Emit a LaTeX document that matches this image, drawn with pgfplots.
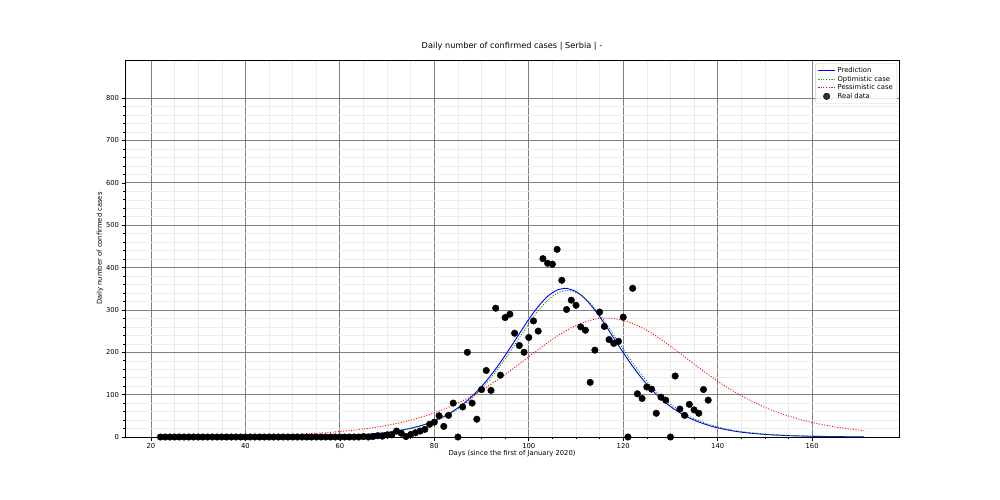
\documentclass[border=0pt]{standalone}
\usepackage{fontspec}
\setmainfont{DejaVu Sans}
\usepackage{pgfplots}
\usepackage{pgfplotstable}
\pgfplotsset{compat=1.18}

\pgfplotstableread{
t v
22 0.02
30 0.07
40 0.24
50 0.86
55 1.6
60 3.1
64 5.1
68 8.5
70 11.0
72 14.1
74 18.2
76 23.3
78 29.8
80 38.1
82 48.4
84 61.3
86 77.1
88 96.3
90 119.2
92 146.0
94 176.3
96 209.4
98 243.9
100 277.7
102 308.0
104 332.0
106 346.9
107.7 351.0
108 350.9
110 343.5
112 325.6
114 299.4
116 267.8
118 233.5
120 199.2
122 166.9
124 137.5
126 111.9
128 90.2
130 72.0
132 57.1
134 45.0
136 35.4
138 27.7
140 21.6
142 16.9
144 13.1
146 10.2
150 6.1
155 3.2
160 1.7
165 0.9
171 0.4
}\pred

\pgfplotstableread{
t v
22 0.03
30 0.07
40 0.25
50 0.87
55 1.6
60 3.1
64 5.1
68 8.4
70 10.8
72 13.9
74 17.8
76 22.7
78 29.0
80 36.9
82 46.8
84 59.0
86 74.1
88 92.4
90 114.3
92 139.7
94 168.8
96 200.7
98 234.1
100 267.3
102 297.8
104 322.7
106 339.4
108 345.9
110 341.5
112 326.7
114 303.3
116 273.7
118 240.8
120 207.2
122 174.9
124 145.3
126 119.1
128 96.5
130 77.5
132 61.8
134 49.0
136 38.7
138 30.4
140 23.9
142 18.7
144 14.6
146 11.4
150 6.9
155 3.7
160 2.0
165 1.0
171 0.5
}\opt

\pgfplotstableread{
t v
22 0.66
26 0.90
30 1.23
34 1.69
38 2.32
42 3.16
46 4.33
50 5.92
54 8.08
58 11.0
62 15.0
66 20.3
70 27.5
74 36.9
78 49.4
82 65.4
86 85.6
90 110.4
94 139.6
98 172.3
102 206.2
106 238.0
110 263.4
114 278.3
116.5 281.0
118 280.0
122 268.2
126 245.1
130 214.5
134 180.7
138 147.5
142 117.3
146 91.4
150 70.0
154 53.0
158 39.7
162 29.6
166 21.9
171 15.0
}\pess

\pgfplotstableread{
t v
22 0
23 0
24 0
25 0
26 0
27 0
28 0
29 0
30 0
31 0
32 0
33 0
34 0
35 0
36 0
37 0
38 0
39 0
40 0
41 0
42 0
43 0
44 0
45 0
46 0
47 0
48 0
49 0
50 0
51 0
52 0
53 0
54 0
55 0
56 0
57 0
58 0
59 0
60 0
61 0
62 0
63 0
64 0
65 1
66 0
67 1
68 3
69 2
70 5
71 5
72 14
73 9
74 1
75 6
76 10
77 14
78 18
79 30
80 35
81 50
82 25
83 51
84 80
85 0
86 71
87 200
88 80
89 42
90 112
91 157
92 110
93 304
94 146
95 282
96 290
97 245
98 216
99 200
100 235
101 274
102 250
103 421
104 410
105 408
106 443
107 370
108 301
109 323
110 311
111 260
112 252
113 129
114 205
115 295
116 261
117 230
118 221
119 226
120 283
121 0
122 351
123 102
124 91
125 118
126 113
127 56
128 94
129 87
130 0
131 144
132 66
133 51
134 77
135 64
136 56
137 112
138 87
}\real

\begin{document}
\fontsize{6.8}{8}\selectfont
\begin{tikzpicture}
\path (-125pt,-63pt) rectangle (875pt,437pt);
\begin{axis}[
  at={(0,0)}, anchor=south west,
  scale only axis, width=774pt, height=377pt,
  xmin=14.5, xmax=178.4, ymin=0, ymax=890,
  xtick={20,40,...,160}, ytick={0,100,...,800},
  minor x tick num=3, minor y tick num=4,
  grid=both,
  major grid style={draw=black!50, line width=0.8pt},
  minor grid style={draw=black!8, line width=0.5pt},
  tick align=outside, tick pos=left,
  major tick length=3.5pt, minor tick length=2pt,
  every tick/.style={black, line width=0.6pt},
  axis line style={black, line width=0.8pt},
  ticklabel style={font=\fontsize{6.8}{8}\selectfont},
  /pgf/number format/assume math mode=true,
  title={Daily number of confirmed cases | Serbia | -},
  title style={at={(axis description cs:0.5,1.0212)}, anchor=center, font=\fontsize{8.2}{9}\selectfont},
  xlabel={Days (since the first of January 2020)},
  ylabel={Daily number of confirmed cases},
  x label style={at={(axis description cs:0.5,-0.0451)}, anchor=center, font=\fontsize{6.8}{8}\selectfont},
  y label style={at={(axis description cs:-0.0323,0.5)}, anchor=center, font=\fontsize{6.8}{8}\selectfont},
  legend style={at={(axis description cs:0.9974,0.992)}, anchor=north east, draw=black!20, rounded corners=2pt, fill=white, fill opacity=0.8, text opacity=1, font=\fontsize{6.8}{8}\selectfont, row sep=-1.5pt, inner sep=2pt},
  legend cell align=left,
]
\addplot[blue, line width=0.9pt, smooth] table[x=t, y=v] {\pred};
\addlegendentry{Prediction}
\addplot[green!50!black, line width=0.9pt, dash pattern=on 1pt off 1.65pt, smooth] table[x=t, y=v] {\opt};
\addlegendentry{Optimistic case}
\addplot[red, line width=0.9pt, dash pattern=on 1pt off 1.65pt, smooth] table[x=t, y=v] {\pess};
\addlegendentry{Pessimistic case}
\addplot[only marks, mark=*, mark size=3.3pt, black] table[x=t, y=v] {\real};
\addlegendentry{Real data}
\end{axis}
\end{tikzpicture}
\end{document}
